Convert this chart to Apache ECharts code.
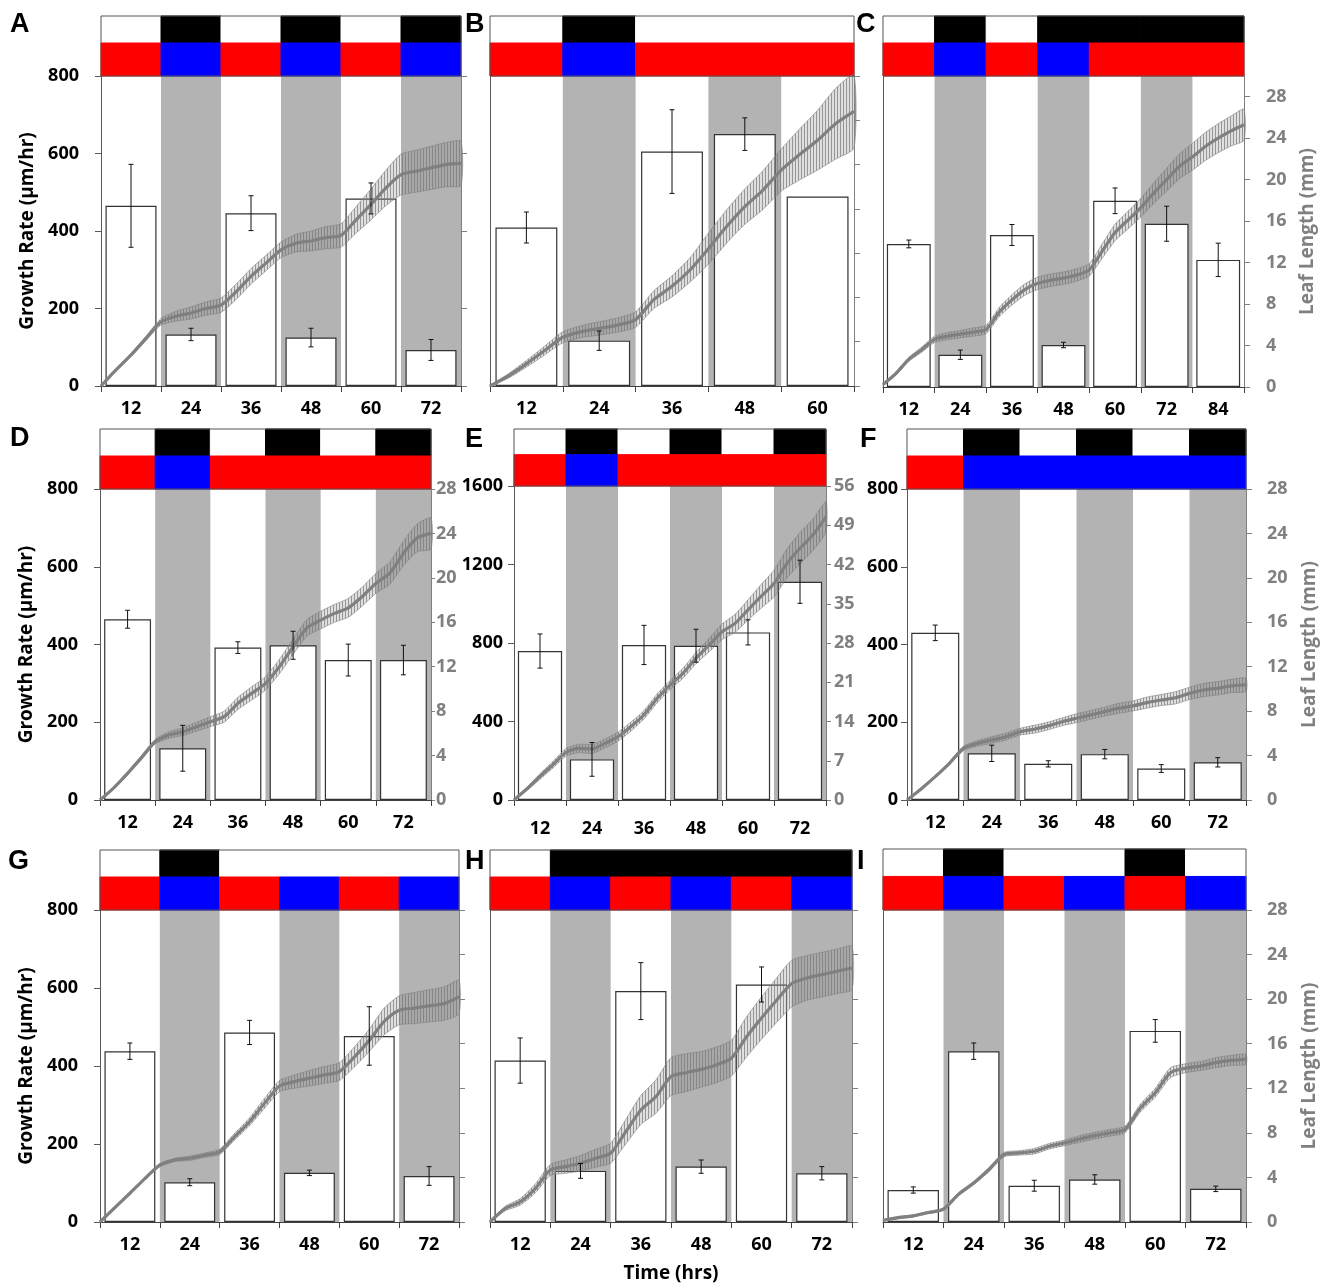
<!DOCTYPE html>
<html><head><meta charset="utf-8">
<script src="https://cdn.jsdelivr.net/npm/echarts/dist/echarts.min.js"></script>
<style>html,body{margin:0;padding:0;background:#fff}#c{width:1328px;height:1286px}</style>
</head><body><div id="c"></div>
<script>
// ---------- DATA ----------
const cats60 = ['12','24','36','48','60'];
const cats72 = ['12','24','36','48','60','72'];
const cats84 = ['12','24','36','48','60','72','84'];
const hours60 = [0,3,6,9,12,15,18,21,24,27,30,33,36,39,42,45,48,51,54,57,60];
const hours72 = [0,3,6,9,12,15,18,21,24,27,30,33,36,39,42,45,48,51,54,57,60,63,66,69,72];
const hours84 = [0,3,6,9,12,15,18,21,24,27,30,33,36,39,42,45,48,51,54,57,60,63,66,69,72,75,78,81,84];

// growth rate bars (µm/hr) and their errors
const rateA = [465,133,446,125,484,93],       rateErrA = [107,16,45,24,40,27];
const rateB = [409,117,605,650,489],          rateErrB = [40,25,108,42,0];
const rateC = [368,83,391,108,479,420,327],   rateErrC = [10,12,27,7,33,45,43];
const rateD = [465,133,392,398,360,360],      rateErrD = [23,59,15,36,41,38];
const rateE = [759,207,790,786,854,1112],     rateErrE = [87,86,100,84,64,110];
const rateF = [430,120,93,118,81,97],         rateErrF = [20,21,8,12,10,12];
const rateG = [438,102,486,126,477,118],      rateErrG = [21,9,31,7,75,24];
const rateH = [414,131,592,142,609,125],      rateErrH = [58,19,73,17,45,17];
const rateI = [82,438,93,109,490,85],         rateErrI = [8,21,14,12,29,7];

// leaf length (mm) and errors
const lenA = [0,1.45,2.8,4.3,5.8,6.3,6.6,7.0,7.3,8.5,9.9,11.1,12.3,12.9,13.1,13.4,13.6,15.0,16.4,17.9,19.1,19.4,19.7,20.0,20.1];
const lenErrA = [0.05,0.1,0.15,0.2,0.3,0.45,0.55,0.6,0.65,0.7,0.7,0.7,0.7,0.8,0.9,1.0,1.05,1.2,1.4,1.6,1.85,1.9,1.95,2.0,2.0];
const lenB = [0,0.9,2.0,3.2,4.4,4.9,5.2,5.5,6.0,7.8,9.0,10.5,12.4,14.4,16.2,17.7,19.5,20.9,22.2,23.7,24.8];
const lenErrB = [0.05,0.2,0.3,0.4,0.5,0.55,0.6,0.65,0.7,0.8,0.95,1.1,1.4,1.5,1.6,1.75,1.9,2.3,2.7,3.2,3.3];
const lenC = [0.25,1.3,2.67,3.6,4.6,4.9,5.1,5.3,5.55,7.2,8.4,9.4,10.0,10.3,10.5,10.8,11.3,13.1,14.9,16.1,17.3,18.7,20.0,21.3,22.2,23.2,24.0,24.7,25.3];
const lenErrC = [0.1,0.15,0.2,0.25,0.3,0.35,0.35,0.4,0.4,0.45,0.5,0.55,0.6,0.6,0.6,0.6,0.6,0.7,0.8,0.85,0.9,1.0,1.1,1.2,1.3,1.35,1.4,1.45,1.5];
const lenD = [0,1.1,2.4,3.8,5.25,5.85,6.15,6.6,7.05,7.5,8.7,9.6,10.5,12.0,13.8,15.5,16.2,16.8,17.3,18.3,19.5,20.4,22.2,23.6,24.0];
const lenErrD = [0.05,0.1,0.15,0.2,0.2,0.3,0.35,0.4,0.45,0.5,0.55,0.6,0.6,0.65,0.7,0.75,0.8,0.8,0.85,0.85,0.9,1.0,1.1,1.25,1.4];
const lenE = [0,2.0,4.2,6.3,8.5,9.2,9.1,10.1,11.3,13.1,15.2,18.1,20.5,22.6,25.3,27.6,30.0,31.5,33.9,36.3,38.6,42.2,44.9,47.3,50.5];
const lenErrE = [0.1,0.3,0.5,0.6,0.7,0.75,0.8,0.8,0.8,0.8,0.75,0.8,0.8,0.9,1.0,1.2,1.4,1.6,1.8,2.1,2.4,2.6,2.8,2.8,2.7];
const lenF = [0,1.0,2.1,3.3,4.65,5.1,5.4,5.7,6.15,6.37,6.67,7.05,7.36,7.66,7.96,8.26,8.47,8.77,9.0,9.2,9.6,9.9,10.06,10.27,10.36];
const lenErrF = [0.05,0.1,0.1,0.15,0.2,0.25,0.3,0.3,0.3,0.35,0.35,0.35,0.4,0.4,0.4,0.45,0.45,0.5,0.5,0.55,0.55,0.6,0.6,0.6,0.6];
const lenG = [0,1.3,2.58,3.9,5.1,5.57,5.72,6.0,6.3,7.66,9.0,10.65,12.2,12.6,12.9,13.2,13.5,14.8,16.3,18.0,19.0,19.2,19.4,19.6,20.2];
const lenErrG = [0.05,0.05,0.1,0.1,0.15,0.15,0.2,0.2,0.25,0.3,0.35,0.45,0.5,0.6,0.7,0.75,0.8,0.9,1.0,1.2,1.3,1.4,1.45,1.5,1.5];
const lenH = [0,1.2,1.8,3.0,4.67,4.97,5.27,5.72,6.17,8.1,10.05,11.25,13.05,13.4,13.7,14.1,14.7,16.6,18.3,19.9,21.4,21.9,22.2,22.5,22.8];
const lenErrH = [0.1,0.2,0.3,0.4,0.5,0.6,0.7,0.8,0.9,1.1,1.3,1.5,1.7,1.7,1.6,1.6,1.6,1.8,1.9,2.0,2.1,2.0,2.0,2.0,1.95];
const lenI = [0.15,0.4,0.55,0.85,1.15,2.5,3.5,4.7,6.05,6.2,6.35,6.8,7.1,7.45,7.75,8.0,8.3,10.2,11.6,13.4,13.8,14.0,14.3,14.5,14.6];
const lenErrI = [0.05,0.1,0.1,0.1,0.1,0.15,0.15,0.2,0.2,0.2,0.25,0.25,0.25,0.3,0.3,0.3,0.3,0.35,0.4,0.45,0.4,0.4,0.45,0.45,0.45];

// light regime strips: W = light, K = dark ; R = red, B = blue
const lightA = ['W','K','W','K','W','K'],     specA = ['R','B','R','B','R','B'];
const lightB = ['W','K','W','W','W'],         specB = ['R','B','R','R','R'];
const lightC = ['W','K','W','K','K','K','K'], specC = ['R','B','R','B','R','R','R'];
const lightD = ['W','K','W','K','W','K'],     specD = ['R','B','R','R','R','R'];
const lightE = ['W','K','W','K','W','K'],     specE = ['R','B','R','R','R','R'];
const lightF = ['W','K','W','K','W','K'],     specF = ['R','B','B','B','B','B'];
const lightG = ['W','K','W','W','W','W'],     specG = ['R','B','R','B','R','B'];
const lightH = ['W','K','K','K','K','K'],     specH = ['R','B','R','B','R','B'];
const lightI = ['W','K','W','W','K','W'],     specI = ['R','B','R','B','R','B'];
// subjective-night (shaded) segments
const darkA = [1,3,5], darkB = [1,3], darkC = [1,3,5], darkD = [1,3,5], darkE = [1,3,5];
const darkF = [1,3,5], darkG = [1,3,5], darkH = [1,3,5], darkI = [1,3,5];

// ---------- PANEL SETUP ----------
const panels = [
 {k:'A', cats:cats72, rate:rateA, rateErr:rateErrA, hours:hours72, len:lenA, lenErr:lenErrA, light:lightA, spec:specA, dark:darkA},
 {k:'B', cats:cats60, rate:rateB, rateErr:rateErrB, hours:hours60, len:lenB, lenErr:lenErrB, light:lightB, spec:specB, dark:darkB},
 {k:'C', cats:cats84, rate:rateC, rateErr:rateErrC, hours:hours84, len:lenC, lenErr:lenErrC, light:lightC, spec:specC, dark:darkC},
 {k:'D', cats:cats72, rate:rateD, rateErr:rateErrD, hours:hours72, len:lenD, lenErr:lenErrD, light:lightD, spec:specD, dark:darkD},
 {k:'E', cats:cats72, rate:rateE, rateErr:rateErrE, hours:hours72, len:lenE, lenErr:lenErrE, light:lightE, spec:specE, dark:darkE},
 {k:'F', cats:cats72, rate:rateF, rateErr:rateErrF, hours:hours72, len:lenF, lenErr:lenErrF, light:lightF, spec:specF, dark:darkF},
 {k:'G', cats:cats72, rate:rateG, rateErr:rateErrG, hours:hours72, len:lenG, lenErr:lenErrG, light:lightG, spec:specG, dark:darkG},
 {k:'H', cats:cats72, rate:rateH, rateErr:rateErrH, hours:hours72, len:lenH, lenErr:lenErrH, light:lightH, spec:specH, dark:darkH},
 {k:'I', cats:cats72, rate:rateI, rateErr:rateErrI, hours:hours72, len:lenI, lenErr:lenErrI, light:lightI, spec:specI, dark:darkI}
];
// layout & axis styling (not data)
const layout = {
 A:{left:101,top:76,width:360,height:310,stripTop:16, lMax:800,lInt:200,rMax:28,rInt:7, lLab:true, rLab:false, lMargin:22, letter:[10,11]},
 B:{left:490,top:76,width:364,height:310,stripTop:16, lMax:800,lInt:200,rMax:28,rInt:4, lLab:false,rLab:false, letter:[465,11]},
 C:{left:883,top:76,width:361,height:311,stripTop:16, lMax:800,lInt:200,rMax:30,rInt:4, lLab:false,rLab:true, rMargin:22, letter:[856,11]},
 D:{left:100,top:489,width:331,height:311,stripTop:429, lMax:800,lInt:200,rMax:28,rInt:4, lLab:true, rLab:true, lMargin:22, rMargin:5, rTick:4, letter:[10,425]},
 E:{left:514,top:486,width:312,height:314,stripTop:429, lMax:1600,lInt:400,rMax:56,rInt:7, lLab:true, rLab:true, lMargin:11, rMargin:8, rTick:5, xMargin:20, letter:[465,426]},
 F:{left:907,top:489,width:339,height:311,stripTop:429, lMax:800,lInt:200,rMax:28,rInt:4, lLab:true, rLab:true, lMargin:9, rMargin:21, letter:[860,426]},
 G:{left:100,top:910,width:359,height:312,stripTop:850, lMax:800,lInt:200,rMax:28,rInt:4, lLab:true, rLab:false, lMargin:22, letter:[8,848]},
 H:{left:490,top:910,width:362,height:312,stripTop:850, lMax:800,lInt:200,rMax:28,rInt:4, lLab:false,rLab:false, letter:[465,848]},
 I:{left:883,top:910,width:363,height:312,stripTop:849, lMax:800,lInt:200,rMax:28,rInt:4, lLab:false,rLab:true, rMargin:21, letter:[857,848]}
};
const leftTitle = {A:true, D:true, G:true};
const rightTitle = {C:true, F:true, I:true};

const FONT = 'Open Sans';
const COL = {W:'#ffffff', K:'#000000', R:'#ff0000', B:'#0000ff'};
const SPLIT = 0.55;
const SHADE = '#b3b3b3';

function hatchPattern(){
  const c = document.createElement('canvas'); c.width = 3; c.height = 4;
  const g = c.getContext('2d');
  g.fillStyle = 'rgba(140,140,140,0.28)'; g.fillRect(0,0,3,4);
  g.fillStyle = 'rgba(120,120,120,0.7)'; g.fillRect(0,0,1,4);
  return c;
}
const hatch = hatchPattern();

const option = {animation:false, backgroundColor:'#fff', title:[], grid:[], xAxis:[], yAxis:[], series:[]};

panels.forEach((p, pi) => {
  const L = layout[p.k];
  const n = p.cats.length;
  const gMain = 2*pi, gStrip = 2*pi+1;
  const xCat = 3*pi, xTime = 3*pi+1, xStrip = 3*pi+2;
  const yL = 3*pi, yR = 3*pi+1, yStrip = 3*pi+2;

  option.title.push({text:p.k, left:L.letter[0], top:L.letter[1], padding:0,
    textStyle:{fontSize:27, fontWeight:'bold', fontFamily:'Liberation Sans', color:'#000'}});

  option.grid.push({left:L.left, top:L.top, width:L.width, height:L.height});
  option.grid.push({left:L.left, top:L.stripTop, width:L.width, height:L.top-L.stripTop,
    show:true, z:10, borderColor:'#555', borderWidth:1, backgroundColor:'transparent'});

  const labelStyle = {fontSize:18, fontWeight:'bold', fontFamily:FONT};
  option.xAxis.push({type:'category', gridIndex:gMain, data:p.cats,
    axisLine:{lineStyle:{color:'#404040', width:1}},
    axisTick:{show:true, length:6, lineStyle:{color:'#404040'}},
    axisLabel:Object.assign({color:'#000', margin:L.xMargin||14}, labelStyle),
    name: p.k==='H' ? 'Time (hrs)' : '', nameLocation:'middle', nameGap:42,
    nameTextStyle:{fontSize:19, fontWeight:'bold', fontFamily:FONT, color:'#000'}});
  option.xAxis.push({type:'value', gridIndex:gMain, min:0, max:n*12, show:false});
  option.xAxis.push({type:'value', gridIndex:gStrip, min:0, max:n, show:false});

  option.yAxis.push({type:'value', gridIndex:gMain, position:'left', min:0, max:L.lMax, interval:L.lInt,
    axisLine:{show:true, lineStyle:{color:'#595959'}},
    axisTick:{show:L.lLab, length:6, lineStyle:{color:'#595959'}},
    axisLabel:Object.assign({show:L.lLab, color:'#000', margin:L.lMargin||10, formatter:v => String(v)}, labelStyle),
    splitLine:{show:false},
    name: leftTitle[p.k] ? 'Growth Rate (µm/hr)' : '', nameLocation:'middle', nameRotate:90, nameGap:64,
    nameTextStyle:{fontSize:19, fontWeight:'bold', fontFamily:FONT, color:'#000'}});
  option.yAxis.push({type:'value', gridIndex:gMain, position:'right', min:0, max:L.rMax, interval:L.rInt,
    axisLine:{show:true, lineStyle:{color:'#808080'}},
    axisTick:{show:true, length:L.rTick||6, lineStyle:{color:'#808080'}},
    axisLabel:Object.assign({show:L.rLab, color:'#808080', margin:L.rMargin||10, showMaxLabel: L.rMax % L.rInt === 0, formatter:v => String(v)}, labelStyle),
    splitLine:{show:false},
    name: rightTitle[p.k] ? 'Leaf Length (mm)' : '', nameLocation:'middle', nameRotate:90, nameGap:54,
    nameTextStyle:{fontSize:19, fontWeight:'bold', fontFamily:FONT, color:'#808080'}});
  option.yAxis.push({type:'value', gridIndex:gStrip, min:0, max:1, show:false});

  // shaded dark periods
  option.series.push({type:'custom', xAxisIndex:xCat, yAxisIndex:yL, z:1, silent:true,
    data:p.dark.map(i => [i, 0]),
    renderItem:(params, api) => {
      const i = api.value(0);
      const bw = api.size([1, 0])[0];
      const a = api.coord([i, 0]), b = api.coord([i, L.lMax]);
      return {type:'rect', shape:{x:a[0]-bw/2, y:b[1], width:bw, height:a[1]-b[1]}, style:{fill:SHADE}};
    }});
  // growth-rate bars
  option.series.push({type:'bar', xAxisIndex:xCat, yAxisIndex:yL, z:2, silent:true,
    data:p.rate, barWidth:'85%',
    itemStyle:{color:'#fff', borderColor:'#333', borderWidth:1.2}});
  // leaf-length error band
  option.series.push({type:'custom', xAxisIndex:xTime, yAxisIndex:yR, z:3, silent:true,
    data:[[0, 0]],
    renderItem:(params, api) => {
      const up = p.hours.map((h, k) => api.coord([h, p.len[k] + p.lenErr[k]]));
      const lo = p.hours.map((h, k) => api.coord([h, Math.max(0, p.len[k] - p.lenErr[k])])).reverse();
      return {type:'polygon', shape:{points:up.concat(lo), smooth:0.2},
        style:{fill:{image:hatch, repeat:'repeat'}, stroke:'rgba(130,130,130,0.6)', lineWidth:1}};
    }});
  // leaf-length line
  option.series.push({type:'line', xAxisIndex:xTime, yAxisIndex:yR, z:4, silent:true,
    data:p.hours.map((h, k) => [h, p.len[k]]), showSymbol:false, smooth:0.25,
    lineStyle:{color:'#808080', width:3.2}});
  // bar error bars
  option.series.push({type:'custom', xAxisIndex:xCat, yAxisIndex:yL, z:5, silent:true,
    data:p.rate.map((v, i) => [i, v, p.rateErr[i]]),
    renderItem:(params, api) => {
      const i = api.value(0), v = api.value(1), e = api.value(2);
      if (!e) return null;
      const t = api.coord([i, v + e]), b = api.coord([i, v - e]);
      const s = {stroke:'#111', lineWidth:1};
      return {type:'group', children:[
        {type:'line', shape:{x1:t[0], y1:t[1], x2:b[0], y2:b[1]}, style:s},
        {type:'line', shape:{x1:t[0]-2.5, y1:t[1], x2:t[0]+2.5, y2:t[1]}, style:s},
        {type:'line', shape:{x1:b[0]-2.5, y1:b[1], x2:b[0]+2.5, y2:b[1]}, style:s}
      ]};
    }});
  // light-regime strip
  const stripData = [];
  p.light.forEach((c, i) => stripData.push({value:[i, 1], itemStyle:{color:COL[c]}}));
  p.spec.forEach((c, i) => stripData.push({value:[i, 0], itemStyle:{color:COL[c]}}));
  option.series.push({type:'custom', xAxisIndex:xStrip, yAxisIndex:yStrip, z:2, silent:true,
    data:stripData,
    renderItem:(params, api) => {
      const i = api.value(0), row = api.value(1);
      const a = api.coord([i, row === 1 ? 1 : SPLIT]);
      const b = api.coord([i + 1, row === 1 ? SPLIT : 0]);
      const c = api.visual('color');
      return {type:'rect', shape:{x:a[0], y:a[1], width:b[0]-a[0], height:b[1]-a[1]},
        style:{fill:c, stroke:c, lineWidth:1}};
    }});
});

const chart = echarts.init(document.getElementById('c'), null, {renderer:'canvas'});
chart.setOption(option);
</script></body></html>
